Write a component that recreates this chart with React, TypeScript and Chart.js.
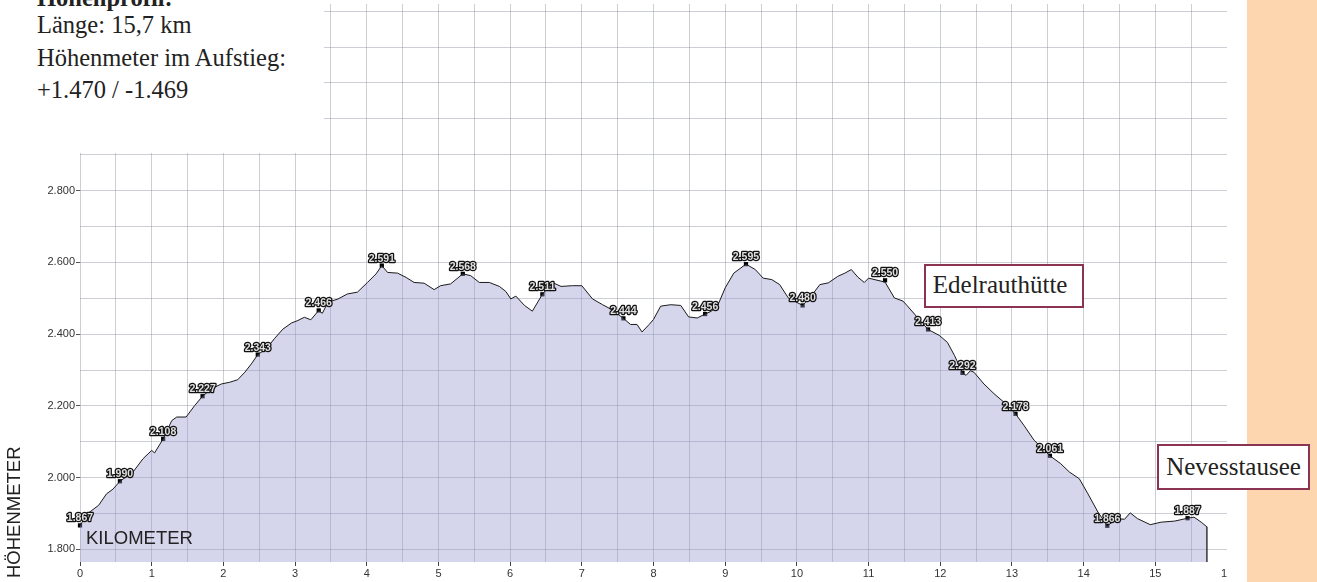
import React, { useEffect, useRef } from "react";
import { Chart, registerables } from "chart.js";

Chart.register(...registerables);

// Elevation profile (distance in km, altitude in m)
const profileKm = [
  0.0, 0.12, 0.26, 0.37, 0.46, 0.557, 0.74, 0.88, 1.0, 1.04, 1.16, 1.28, 1.35, 1.48, 1.6, 1.71,
  1.83, 1.97, 2.09, 2.2, 2.3, 2.39, 2.48, 2.6, 2.71, 2.83, 2.95, 3.04, 3.13, 3.22, 3.33, 3.38,
  3.46, 3.6, 3.73, 3.87, 4.01, 4.13, 4.21, 4.29, 4.43, 4.55, 4.66, 4.8, 4.94, 5.03, 5.17, 5.34,
  5.45, 5.57, 5.71, 5.85, 5.94, 6.01, 6.08, 6.2, 6.31, 6.45, 6.59, 6.71, 6.87, 7.0, 7.15, 7.29,
  7.43, 7.58, 7.68, 7.77, 7.84, 7.94, 8.0, 8.1, 8.24, 8.38, 8.49, 8.61, 8.72, 8.81, 8.9, 9.0,
  9.12, 9.29, 9.42, 9.53, 9.65, 9.76, 9.88, 10.08, 10.2, 10.32, 10.44, 10.57, 10.67, 10.76, 10.85, 10.94,
  11.0, 11.23, 11.36, 11.48, 11.54, 11.68, 11.83, 11.99, 12.1, 12.2, 12.31, 12.36, 12.42, 12.47, 12.61, 12.75,
  12.89, 13.05, 13.17, 13.31, 13.53, 13.68, 13.8, 13.94, 14.06, 14.2, 14.33, 14.47, 14.57, 14.65, 14.75, 14.93,
  15.08, 15.27, 15.45, 15.54, 15.64, 15.72,
];
const profileAlt = [
  1867, 1902, 1923, 1955, 1968, 1990, 2016, 2053, 2076, 2069, 2108, 2159, 2169, 2169, 2201, 2227,
  2247, 2261, 2266, 2273, 2294, 2317, 2343, 2359, 2387, 2414, 2431, 2438, 2447, 2440, 2466, 2458,
  2489, 2498, 2512, 2517, 2544, 2568, 2591, 2572, 2570, 2558, 2544, 2542, 2524, 2535, 2540, 2568,
  2563, 2544, 2544, 2533, 2519, 2498, 2506, 2480, 2464, 2511, 2544, 2533, 2535, 2535, 2498, 2482,
  2467, 2444, 2427, 2427, 2406, 2427, 2441, 2478, 2482, 2480, 2448, 2445, 2456, 2464, 2482, 2529,
  2570, 2595, 2580, 2556, 2552, 2538, 2501, 2480, 2506, 2538, 2543, 2561, 2570, 2580, 2559, 2544,
  2556, 2545, 2501, 2492, 2479, 2447, 2413, 2396, 2377, 2340, 2292, 2285, 2298, 2294, 2261, 2234,
  2210, 2178, 2145, 2104, 2061, 2039, 2016, 1997, 1955, 1904, 1866, 1886, 1884, 1902, 1886, 1869,
  1876, 1879, 1887, 1890, 1876, 1863,
];

// Labelled waypoints
const markerKm = [
  0.0, 0.557, 1.16, 1.71, 2.48, 3.33, 4.21, 5.34, 6.45, 7.58, 8.72, 9.29, 10.08, 11.23, 11.83, 12.31,
  13.05, 13.53, 14.33, 15.45,
];
const markerAlt = [
  1867, 1990, 2108, 2227, 2343, 2466, 2591, 2568, 2511, 2444, 2456, 2595, 2480, 2550, 2413, 2292,
  2178, 2061, 1866, 1887,
];

// Axes
const xTickLabels = [0, 1, 2, 3, 4, 5, 6, 7, 8, 9, 10, 11, 12, 13, 14, 15, 16];
const yTickValues = [1800, 1900, 2000, 2100, 2200, 2300, 2400, 2500, 2600, 2700, 2800, 2900, 3000, 3100, 3200, 3300];
const Y_MIN = 1765;
const Y_MAX = 3320;

const infoLines = ["Länge: 15,7 km", "Höhenmeter im Aufstieg:", "+1.470 / -1.469"];

const SANS = '"Liberation Sans", Arial, sans-serif';
const SERIF = '"Liberation Serif", "Times New Roman", serif';
const GRID = "rgba(135,140,160,0.42)";

const overlayPlugin = {
  id: "profileOverlay",
  afterDatasetsDraw(chart: any) {
    const ctx = chart.ctx;
    const xs = chart.scales.x;
    const ys = chart.scales.y;
    const area = chart.chartArea;
    ctx.save();
    // closing vertical line at end of route
    const lx = xs.getPixelForValue(profileKm[profileKm.length - 1]);
    const ly = ys.getPixelForValue(profileAlt[profileAlt.length - 1]);
    ctx.strokeStyle = "#1a1a1a";
    ctx.lineWidth = 1.3;
    ctx.beginPath();
    ctx.moveTo(lx, ly);
    ctx.lineTo(lx, area.bottom);
    ctx.stroke();

    // waypoint labels
    ctx.font = `bold 10.5px ${SANS}`;
    ctx.textAlign = "center";
    ctx.textBaseline = "alphabetic";
    ctx.lineJoin = "round";
    markerKm.forEach((k, i) => {
      const px = xs.getPixelForValue(k);
      const py = ys.getPixelForValue(markerAlt[i]);
      const t = (markerAlt[i] / 1000).toFixed(3);
      ctx.lineWidth = 2.6;
      ctx.strokeStyle = "#111";
      ctx.strokeText(t, px, py - 4);
      ctx.fillStyle = "#e0e0e0";
      ctx.fillText(t, px, py - 4);
    });

    // axis titles
    ctx.font = `18.5px ${SANS}`;
    ctx.textAlign = "left";
    ctx.fillStyle = "#222";
    ctx.fillText("KILOMETER", area.left + 6, area.bottom - 18.5);
    ctx.translate(20, 578);
    ctx.rotate(-Math.PI / 2);
    ctx.fillText("HÖHENMETER", 0, 0);
    ctx.restore();
  },
};

export default function App() {
  const ref = useRef<HTMLCanvasElement | null>(null);

  useEffect(() => {
    if (!ref.current) return;
    const profile = profileKm.map((k, i) => ({ x: k, y: profileAlt[i] }));
    const markers = markerKm.map((k, i) => ({ x: k, y: markerAlt[i] }));
    const xGrid: number[] = [];
    xTickLabels.forEach((v, i) => {
      xGrid.push(v);
      if (i < xTickLabels.length - 1) xGrid.push(v + 0.5);
    });

    const chart = new Chart(ref.current, {
      type: "line",
      data: {
        datasets: [
          {
            data: profile,
            borderColor: "#1a1a1a",
            borderWidth: 1,
            backgroundColor: "rgba(150,150,205,0.4)",
            fill: "start",
            pointRadius: 0,
            tension: 0,
          },
          {
            data: markers,
            showLine: false,
            pointStyle: "rect",
            pointRadius: 3,
            pointBackgroundColor: "#000",
            pointBorderColor: "#000",
            pointBorderWidth: 0,
            clip: false,
          } as any,
        ],
      },
      options: {
        animation: false,
        responsive: false,
        events: [],
        layout: { padding: { left: 0, right: 18, top: 4, bottom: 0 } },
        plugins: { legend: { display: false }, tooltip: { enabled: false } },
        scales: {
          x: {
            type: "linear",
            min: 0,
            max: 16,
            border: { display: false },
            afterBuildTicks: (s: any) => {
              s.ticks = xGrid.map((v) => ({ value: v }));
            },
            afterFit: (s: any) => {
              s.height = 20;
              s.paddingLeft = 0;
              s.paddingRight = 0;
            },
            grid: {
              color: GRID,
              lineWidth: 1,
              drawTicks: true,
              tickLength: 4,
              tickColor: (c: any) =>
                c.tick && Number.isInteger(c.tick.value) ? "#444" : "rgba(0,0,0,0)",
            },
            ticks: {
              autoSkip: false,
              maxRotation: 0,
              padding: 1,
              color: "#333",
              font: { family: SANS, size: 11 },
              callback: (v: any) => (Number.isInteger(Number(v)) ? String(v) : ""),
            },
          },
          y: {
            type: "linear",
            min: Y_MIN,
            max: Y_MAX,
            border: { display: false },
            afterBuildTicks: (s: any) => {
              s.ticks = yTickValues.map((v) => ({ value: v }));
            },
            afterFit: (s: any) => {
              s.width = 80;
              s.paddingTop = 0;
              s.paddingBottom = 0;
            },
            grid: {
              color: GRID,
              lineWidth: 1,
              drawTicks: true,
              tickLength: 4,
              tickColor: (c: any) =>
                c.tick && c.tick.value % 200 === 0 ? "#555" : "rgba(0,0,0,0)",
            },
            ticks: {
              padding: 1,
              color: "#333",
              font: { family: SANS, size: 11 },
              callback: (v: any) => (Number(v) % 200 === 0 ? (Number(v) / 1000).toFixed(3) : ""),
            },
          },
        },
      },
      plugins: [overlayPlugin],
    });
    return () => chart.destroy();
  }, []);

  const boxStyle = {
    position: "absolute" as const,
    boxSizing: "border-box" as const,
    background: "#fff",
    border: "2.5px solid #8a3352",
  };
  const boxText = {
    position: "absolute" as const,
    fontFamily: SERIF,
    fontSize: 25,
    lineHeight: "25px",
    color: "#222",
    whiteSpace: "nowrap" as const,
  };
  const infoTops = [12.9, 45.9, 78.4];

  return (
    <div
      style={{
        position: "fixed",
        left: 0,
        top: 0,
        width: 1317,
        height: 582,
        background: "#fff",
        overflow: "hidden",
      }}
    >
      <div style={{ position: "absolute", left: 0, top: 0, width: 1227, height: 582, overflow: "hidden" }}>
        <canvas ref={ref} width={1245} height={582} style={{ display: "block", width: 1245, height: 582 }} />
      </div>
      <div style={{ position: "absolute", left: 1247, top: 0, width: 70, height: 582, background: "#fdd5ae" }} />
      <div style={{ position: "absolute", left: 0, top: 0, width: 324, height: 153, background: "#fff", overflow: "hidden" }}>
        <div
          style={{
            position: "absolute",
            left: 37,
            top: -14.5,
            fontFamily: SERIF,
            fontSize: 24.5,
            lineHeight: "24px",
            fontWeight: "bold",
            color: "#222",
            whiteSpace: "nowrap",
          }}
        >
          Höhenprofil:
        </div>
        {infoLines.map((t, i) => (
          <div
            key={i}
            style={{
              position: "absolute",
              left: 37,
              top: infoTops[i],
              fontFamily: SERIF,
              fontSize: 24.5,
              lineHeight: "24px",
              color: "#222",
              whiteSpace: "nowrap",
            }}
          >
            {t}
          </div>
        ))}
      </div>
      <div style={{ ...boxStyle, left: 924, top: 264, width: 160, height: 44 }}>
        <div style={{ ...boxText, left: 6.8, top: 5.9 }}>Edelrauthütte</div>
      </div>
      <div style={{ ...boxStyle, left: 1157, top: 444, width: 153, height: 46 }}>
        <div style={{ ...boxText, left: 7.2, top: 7.6 }}>Nevesstausee</div>
      </div>
    </div>
  );
}
